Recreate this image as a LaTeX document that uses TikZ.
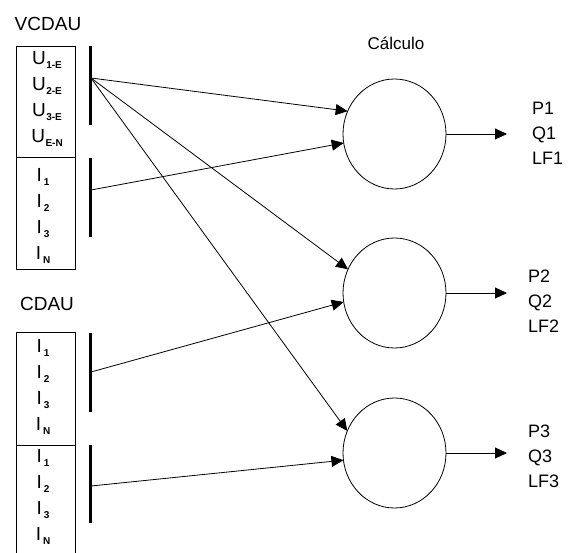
\documentclass[tikz,border=0pt]{standalone}
\usepackage{fontspec}
\setmainfont{Liberation Sans}
\usetikzlibrary{arrows.meta,shapes.geometric}
\newcommand{\Usub}[1]{U\kern0.5pt\raisebox{-4pt}{\fontsize{10}{10}\selectfont\bfseries #1}}
\newcommand{\Isub}[1]{I\kern2pt\raisebox{-4pt}{\fontsize{10}{10}\selectfont\bfseries #1}}
\begin{document}
\begin{tikzpicture}[x=1pt,y=-1pt,
  every node/.style={inner sep=0pt,outer sep=0pt},
  lbl/.style={font=\fontsize{19}{19}\selectfont},
  cell/.style={font=\fontsize{19}{19}\selectfont,anchor=center},
  box/.style={draw,line width=0.9pt,minimum width=59pt},
  bar/.style={fill=black,minimum width=3pt},
  calc/.style={draw,ellipse,line width=0.8pt,minimum width=103pt,minimum height=110pt},
  link/.style={line width=0.8pt,-{Triangle[length=12pt,width=11pt]}},
  outl/.style={font=\fontsize{18}{25}\selectfont,align=left,anchor=north west}]
\useasboundingbox (0,0) rectangle (575,553);
\fill[white] (0,0) rectangle (575,553);
% labels
\node[lbl] (tV) at (48,24) {VCDAU};
\node[lbl] (tC) at (47,304) {CDAU};
\node[font=\fontsize{17}{17}\selectfont] (tK) at (396,43) {Cálculo};
% VCDAU boxes
\node[box,minimum height=111pt] (bx1) at (45.5,101.5) {};
\node[box,minimum height=112pt] (bx2) at (45.5,213) {};
\node[cell] (u1) at (47,60) {\Usub{1-E}};
\node[cell] (u2) at (47,86) {\Usub{2-E}};
\node[cell] (u3) at (47,112) {\Usub{3-E}};
\node[cell] (u4) at (47,138) {\Usub{E-N}};
\node[cell] (i11) at (43,177) {\Isub{1}};
\node[cell] (i12) at (43,203) {\Isub{2}};
\node[cell] (i13) at (43,229) {\Isub{3}};
\node[cell] (i14) at (43,255) {\Isub{N}};
% CDAU boxes
\node[box,minimum height=113pt] (bx3) at (45.5,388.5) {};
\draw[line width=0.9pt] (16,560) -- (16,445) -- (75,445) -- (75,560);
\node[cell] (i21) at (43,348) {\Isub{1}};
\node[cell] (i22) at (43,374) {\Isub{2}};
\node[cell] (i23) at (43,400) {\Isub{3}};
\node[cell] (i24) at (43,426) {\Isub{N}};
\node[cell] (i31) at (43,458) {\Isub{1}};
\node[cell] (i32) at (43,484) {\Isub{2}};
\node[cell] (i33) at (43,510) {\Isub{3}};
\node[cell] (i34) at (43,536) {\Isub{N}};
% bars
\node[bar,minimum height=79pt] (b1) at (90,85.5) {};
\node[bar,minimum height=79pt] (b2) at (90,197.5) {};
\node[bar,minimum height=79pt] (b3) at (90,372.5) {};
\node[bar,minimum height=78pt] (b4) at (90,484) {};
\coordinate (s1) at (91,78);
\coordinate (s2) at (91,190);
\coordinate (s3) at (91,372);
\coordinate (s4) at (91,486);
% calculation circles
\node[calc] (c1) at (394.5,134) {};
\node[calc] (c2) at (394.5,293) {};
\node[calc] (c3) at (394.5,453) {};
% connectors
\draw[link] (s1) -- (c1.154);
\draw[link] (s1) -- (c2.153);
\draw[link] (s1) -- (c3.155);
\draw[link] (s2) -- (c1.190);
\draw[link] (s3) -- (c2.190);
\draw[link] (s4) -- (c3.188);
% outputs
\coordinate (o1) at (507,134);
\coordinate (o2) at (507,293);
\coordinate (o3) at (507,453);
\draw[link] (c1.east) -- (o1);
\draw[link] (c2.east) -- (o2);
\draw[link] (c3.east) -- (o3);
\node[outl] (r1) at (532,102) {P1\\Q1\\LF1};
\node[outl] (r2) at (528,270) {P2\\Q2\\LF2};
\node[outl] (r3) at (528,425) {P3\\Q3\\LF3};
\end{tikzpicture}
\end{document}
